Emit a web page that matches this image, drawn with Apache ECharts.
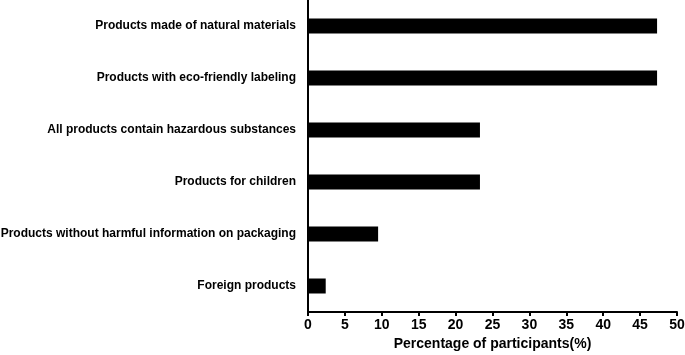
<!DOCTYPE html>
<html>
<head>
<meta charset="utf-8">
<script src="https://cdn.jsdelivr.net/npm/echarts@6/dist/echarts.min.js"></script>
<style>html,body{margin:0;padding:0;background:#fff;}#c{width:685px;height:355px;}</style>
</head>
<body>
<div id="c"></div>
<script>
const categories = [
  "Products made of natural materials",
  "Products with eco-friendly labeling",
  "All products contain hazardous substances",
  "Products for children",
  "Products without harmful information on packaging",
  "Foreign products"
];
const values = [47.3, 47.3, 23.3, 23.3, 9.5, 2.4];
const xTicks = [0, 5, 10, 15, 20, 25, 30, 35, 40, 45, 50];

const chart = echarts.init(document.getElementById('c'), null, {renderer: 'canvas'});
const font = '"Liberation Sans", Arial, sans-serif';
chart.setOption({
  animation: false,
  backgroundColor: '#fff',
  grid: {left: 308, right: 8, top: 0, bottom: 43, containLabel: false, outerBoundsMode: 'none'},
  xAxis: {
    type: 'value', min: xTicks[0], max: xTicks[xTicks.length - 1], interval: 5,
    name: 'Percentage of participants(%)', nameLocation: 'middle', nameGap: 25,
    nameTextStyle: {fontFamily: font, fontWeight: 'bold', fontSize: 14, color: '#000'},
    axisLine: {show: true, lineStyle: {color: '#000', width: 2}},
    axisTick: {show: true, length: 4, lineStyle: {color: '#000', width: 2}},
    axisLabel: {fontFamily: font, fontWeight: 'bold', fontSize: 14, color: '#000', margin: 6},
    splitLine: {show: false}
  },
  yAxis: {
    type: 'category', data: categories, inverse: true,
    axisLine: {show: true, lineStyle: {color: '#000', width: 2}},
    axisTick: {show: false},
    axisLabel: {fontFamily: font, fontWeight: 'bold', fontSize: 12, color: '#000', margin: 12}
  },
  series: [{
    type: 'bar', data: values, barWidth: 15,
    itemStyle: {color: '#000'}
  }]
});
</script>
</body>
</html>
